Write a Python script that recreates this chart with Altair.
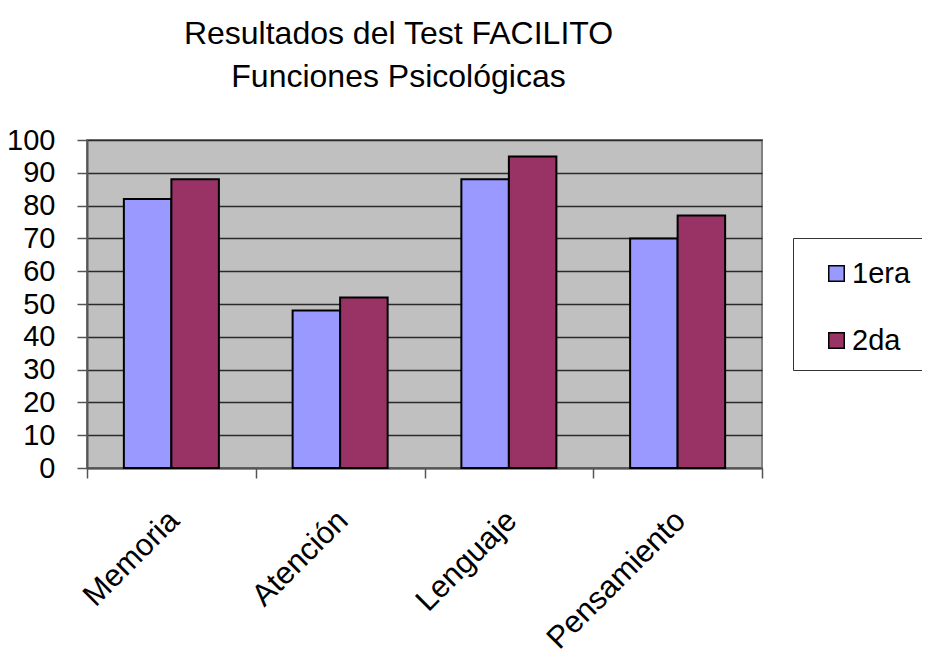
import altair as alt
import pandas as pd

categorias = ["Memoria", "Atención", "Lenguaje", "Pensamiento"]
series = ["1era", "2da"]
valores_1era = [82, 48, 88, 70]
valores_2da = [88, 52, 95, 77]
colores = ["#9999FF", "#993366"]
y_ticks = list(range(0, 101, 10))
titulo = ["Resultados del Test  FACILITO", "Funciones Psicológicas"]

rows = []
for c, v1, v2 in zip(categorias, valores_1era, valores_2da):
    rows.append({"Función": c, "Prueba": series[0], "Valor": v1})
    rows.append({"Función": c, "Prueba": series[1], "Valor": v2})
df = pd.DataFrame(rows)

FONT = "Liberation Sans"

chart = alt.Chart(df).mark_bar(stroke="black", strokeWidth=2).encode(
    x=alt.X(
        "Función:N",
        sort=categorias,
        scale=alt.Scale(paddingInner=0, paddingOuter=0),
        axis=alt.Axis(
            title=None, labelAngle=-45, tickBand="extent", grid=False,
            labelFont=FONT, labelFontSize=31, labelColor="black", labelPadding=27,
            labelOffset=-8, labelLimit=400,
            domainColor="#555555", domainWidth=2, tickColor="#555555", tickWidth=1.5,
            tickSize=10,
        ),
    ),
    xOffset=alt.XOffset(
        "Prueba:N", sort=series,
        scale=alt.Scale(paddingInner=0, paddingOuter=0.776),
    ),
    y=alt.Y(
        "Valor:Q",
        scale=alt.Scale(domain=[0, 100], nice=False),
        axis=alt.Axis(
            title=None, values=y_ticks, grid=True, gridColor="#2a2a2a", gridWidth=1.5,
            labelFont=FONT, labelFontSize=29, labelColor="black", labelPadding=22,
            domainColor="#555555", domainWidth=2, tickColor="#555555", tickWidth=1.5,
            tickSize=10, labelOverlap=False,
        ),
    ),
    color=alt.Color(
        "Prueba:N",
        scale=alt.Scale(domain=series, range=colores),
        legend=alt.Legend(
            title=" ", titleFontSize=7, titlePadding=0,
            orient="none", legendX=706, legendY=98,
            labelFont=FONT, labelFontSize=29, labelColor="black", labelOffset=1,
            symbolType="square", symbolSize=240, symbolStrokeColor="black",
            symbolStrokeWidth=1.5, symbolOffset=15, rowPadding=37, padding=14,
            strokeColor="#333333", fillColor="white",
        ),
    ),
).properties(
    width=675,
    height=328,
    autosize=alt.AutoSizeParams(type="none"),
    padding={"left": 79, "top": 132, "right": 160, "bottom": 194},
    title=alt.TitleParams(
        text=titulo, font=FONT, fontSize=32, fontWeight="normal", color="black",
        anchor="middle", frame="group", dx=-26, offset=32, lineHeight=43,
    ),
).configure_view(
    fill="#C0C0C0", stroke="#808080", strokeWidth=2,
)

chart.save("out.html", embed_options={"renderer": "svg", "actions": False})
